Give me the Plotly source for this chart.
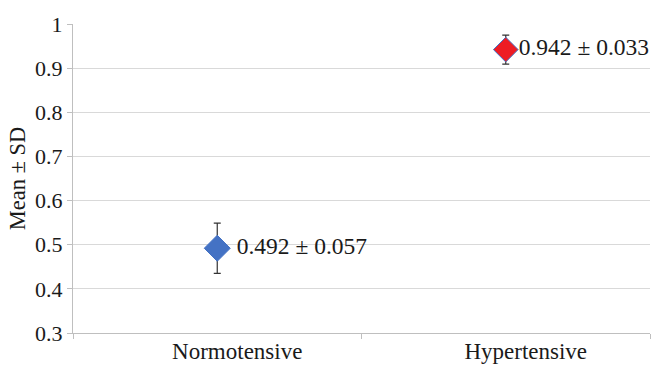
import plotly.graph_objects as go

groups = ["Normotensive", "Hypertensive"]
means = [0.492, 0.942]
sds = [0.057, 0.033]
marker_colors = ["#4472C4", "#ED1C24"]
marker_sizes = [20, 19]
labels = [f"{m:.3f} ± {s:.3f}" for m, s in zip(means, sds)]
xpos = list(range(len(groups)))

FONT = "Liberation Serif, Times New Roman, serif"
TXT = "#1a1a1a"

fig = go.Figure()
for i in xpos:
    fig.add_trace(go.Scatter(
        x=[xpos[i]], y=[means[i]],
        mode="markers+text",
        text=[(" " + labels[i]) if i == 0 else labels[i]],
        textposition="middle right",
        textfont=dict(family=FONT, size=23.5, color=TXT),
        marker=dict(symbol="diamond", size=marker_sizes[i], color=marker_colors[i],
                    line=dict(color="#4472C4", width=1)),
        error_y=dict(type="data", array=[sds[i]], visible=True,
                     color="#333333", thickness=1.2, width=3.5),
        showlegend=False, cliponaxis=False,
    ))

fig.update_layout(
    width=652, height=365,
    margin=dict(l=73, r=2, t=24, b=32),
    paper_bgcolor="white", plot_bgcolor="white",
    font=dict(family=FONT, size=22, color=TXT),
)
fig.update_xaxes(
    range=[-0.5, 1.5], tickvals=xpos, ticktext=groups,
    ticks="", showgrid=False, showline=True, linecolor="#BFBFBF", linewidth=1,
    ticklabelshift=20, ticklabelstandoff=-3, automargin=False,
    minor=dict(tick0=-0.5, dtick=1, ticks="outside", ticklen=5,
               tickcolor="#BFBFBF", showgrid=False),
    tickfont=dict(family=FONT, size=23, color=TXT),
    zeroline=False,
)
fig.update_yaxes(
    range=[0.3, 1.0],
    tickvals=[0.3, 0.4, 0.5, 0.6, 0.7, 0.8, 0.9, 1.0],
    ticktext=["0.3", "0.4", "0.5", "0.6", "0.7", "0.8", "0.9", "1"],
    ticks="outside", ticklen=5, tickcolor="#BFBFBF",
    showgrid=True, gridcolor="#D9D9D9", gridwidth=1,
    showline=True, linecolor="#BFBFBF", linewidth=1, zeroline=False,
    automargin=False,
    title=dict(text="Mean ± SD", standoff=3, font=dict(family=FONT, size=22.5, color=TXT)),
    tickfont=dict(family=FONT, size=22, color=TXT),
)

fig.write_html("out.html",
               config={"displayModeBar": False},
               post_script="document.body.style.margin='0';document.body.style.overflow='hidden';")
